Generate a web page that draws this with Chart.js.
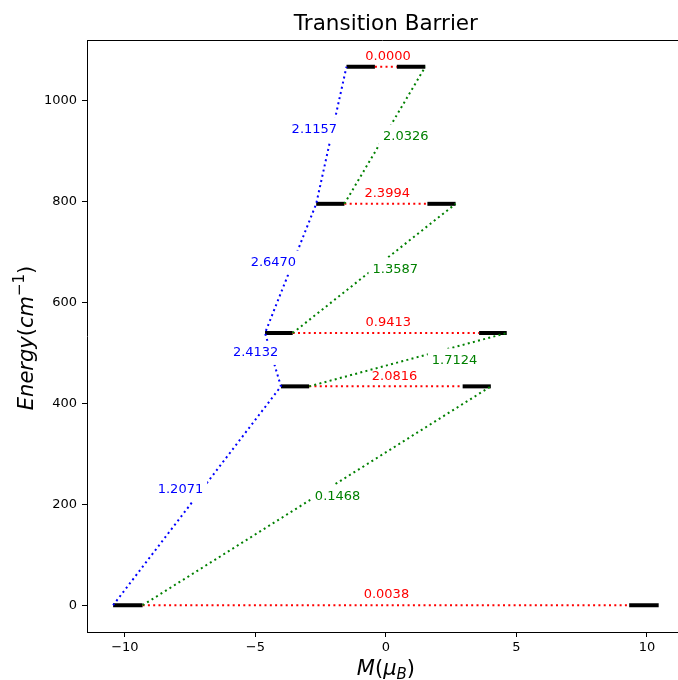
<!DOCTYPE html>
<html>
<head>
<meta charset="utf-8">
<script src="https://cdn.jsdelivr.net/npm/chart.js@4.4.0/dist/chart.umd.min.js"></script>
<style>
html, body { margin: 0; padding: 0; background: #fff; overflow: hidden; }
#barrierGraph { display: block; }
</style>
</head>
<body>
<canvas id="barrierGraph" width="678" height="680"></canvas>
<script>
// energy of each doublet (cm-1) and M at the outer / inner end of its bars
const levelE = [0, 433.7, 539.4, 795.4, 1067];
const outerM = [10.45, 4.02, 4.63, 2.67, 1.51];
const innerM = [9.32, 2.94, 3.57, 1.59, 0.42];

// matrix elements written next to the transitions
const redLabels = ['0.0038', '2.0816', '0.9413', '2.3994', '0.0000'];
const redX = [0.02, 0.33, 0.09, 0.05, 0.08];
const redY = [21, 453.5, 560, 815, 1087];

const blueLabels = ['1.2071', '2.4132', '2.6470', '2.1157'];
const blueX = [-7.87, -4.99, -4.31, -2.74];
const blueY = [229, 500, 679, 943];

const greenLabels = ['0.1468', '1.7124', '1.3587', '2.0326'];
const greenX = [-1.85, 2.63, 0.36, 0.76];
const greenY = [215, 485, 665, 929];

const xTicks = [-10, -5, 0, 5, 10];
const yTicks = [0, 200, 400, 600, 800, 1000];

const FONT = 'DejaVu Sans';
const dotted = [2, 3.3];

const lineSet = function(points, color, width, dash, order){
	return {
		data: points,
		showLine: true,
		borderColor: color,
		backgroundColor: color,
		borderWidth: width,
		borderDash: dash,
		pointRadius: 0,
		pointHoverRadius: 0,
		fill: false,
		tension: 0,
		order: order
	};
};

const datasets = [];
// blue path climbing the left side
datasets.push(lineSet(levelE.map((e, i) => ({x: -outerM[i], y: e})), '#0000ff', 2, dotted, 1));
// green diagonals
for(let i = 0; i < levelE.length - 1; i++){
	datasets.push(lineSet([{x: -innerM[i], y: levelE[i]}, {x: outerM[i + 1], y: levelE[i + 1]}], '#008000', 2, dotted, 1));
}
// red horizontals and black level bars
for(let i = 0; i < levelE.length; i++){
	datasets.push(lineSet([{x: -innerM[i], y: levelE[i]}, {x: innerM[i], y: levelE[i]}], '#ff0000', 2, dotted, 2));
	datasets.push(lineSet([{x: -outerM[i], y: levelE[i]}, {x: -innerM[i], y: levelE[i]}], '#000000', 4, [], 3));
	datasets.push(lineSet([{x: innerM[i], y: levelE[i]}, {x: outerM[i], y: levelE[i]}], '#000000', 4, [], 3));
}

const drawLabel = function(ctx, chart, text, x, y, color, boxed){
	const px = chart.scales.x.getPixelForValue(x);
	const py = chart.scales.y.getPixelForValue(y);
	ctx.font = '13px "' + FONT + '"';
	if(boxed){
		const w = ctx.measureText(text).width;
		ctx.fillStyle = '#fff';
		ctx.fillRect(px - w / 2 - 4, py - 12, w + 8, 24);
	}
	ctx.fillStyle = color;
	ctx.textAlign = 'center';
	ctx.textBaseline = 'middle';
	ctx.fillText(text, px, py);
};

// draws a list of [text, font, baseline shift] pieces centred on x=0
const drawPieces = function(ctx, parts){
	let total = 0;
	for(let p of parts){ ctx.font = p[1]; total += ctx.measureText(p[0]).width; }
	let x = -total / 2;
	ctx.textAlign = 'left';
	ctx.textBaseline = 'alphabetic';
	for(let p of parts){
		ctx.font = p[1];
		ctx.fillText(p[0], x, p[2]);
		x += ctx.measureText(p[0]).width;
	}
};

const labelPlugin = {
	id: 'labels',
	afterDatasetsDraw(chart){
		const ctx = chart.ctx;
		ctx.save();
		redLabels.forEach((t, i) => drawLabel(ctx, chart, t, redX[i], redY[i], '#ff0000', false));
		blueLabels.forEach((t, i) => drawLabel(ctx, chart, t, blueX[i], blueY[i], '#0000ff', true));
		greenLabels.forEach((t, i) => drawLabel(ctx, chart, t, greenX[i], greenY[i], '#008000', true));
		ctx.restore();
	}
};

const framePlugin = {
	id: 'frame',
	afterDraw(chart){
		const ctx = chart.ctx, a = chart.chartArea;
		// centre of the full (uncropped) axes box
		const midX = chart.scales.x.getPixelForValue(0);
		ctx.save();
		// top spine (the right one falls just outside the picture)
		ctx.strokeStyle = '#000';
		ctx.lineWidth = 1;
		ctx.beginPath();
		ctx.moveTo(a.left, Math.round(a.top) + 0.5);
		ctx.lineTo(a.right, Math.round(a.top) + 0.5);
		ctx.stroke();

		ctx.fillStyle = '#000';
		ctx.font = '21.5px "' + FONT + '"';
		ctx.textAlign = 'center';
		ctx.textBaseline = 'middle';
		ctx.fillText('Transition Barrier', midX, 24);

		const big = 'italic 21px "' + FONT + '"';
		const upright = '21px "' + FONT + '"';
		const small = 'italic 15px "' + FONT + '"';
		const smallUp = '15px "' + FONT + '"';

		// x axis label M(mu_B)
		ctx.save();
		ctx.translate(midX, 675);
		drawPieces(ctx, [['M', big, 0], ['(', upright, 0], ['\u03bc', big, 0], ['B', small, 4], [')', upright, 0]]);
		ctx.restore();

		// y axis label Energy(cm^-1)
		ctx.save();
		ctx.translate(33, (a.top + a.bottom) / 2 + 2);
		ctx.rotate(-Math.PI / 2);
		drawPieces(ctx, [['Energy', big, 0], ['(', upright, 0], ['cm', big, 0], ['\u22121', smallUp, -9], [')', upright, 0]]);
		ctx.restore();

		ctx.restore();
	}
};

const minus = v => String(v).replace('-', '\u2212');

const config = {
	type: 'scatter',
	data: { datasets: datasets },
	options: {
		responsive: false,
		animation: false,
		devicePixelRatio: 1,
		layout: { padding: { top: 40, left: 0, right: 0, bottom: 0 } },
		plugins: {
			legend: { display: false },
			tooltip: { enabled: false },
			title: { display: false }
		},
		scales: {
			x: {
				type: 'linear',
				min: -11.45,
				max: 11.19,
				afterFit: s => { s.height = 48; },
				afterBuildTicks: s => { s.ticks = xTicks.map(v => ({value: v})); },
				grid: { drawOnChartArea: false, drawTicks: true, tickLength: 5, color: '#000' },
				border: { display: true, color: '#000', width: 1 },
				ticks: { color: '#000', font: { family: FONT, size: 13 }, padding: 3, maxRotation: 0, callback: minus }
			},
			y: {
				type: 'linear',
				min: -53,
				max: 1120,
				afterFit: s => { s.width = 87; },
				afterBuildTicks: s => { s.ticks = yTicks.map(v => ({value: v})); },
				grid: { drawOnChartArea: false, drawTicks: true, tickLength: 5, color: '#000' },
				border: { display: true, color: '#000', width: 1 },
				ticks: { color: '#000', font: { family: FONT, size: 13 }, padding: 5, callback: minus }
			}
		}
	},
	plugins: [labelPlugin, framePlugin]
};

new Chart(document.getElementById('barrierGraph'), config);
</script>
</body>
</html>
